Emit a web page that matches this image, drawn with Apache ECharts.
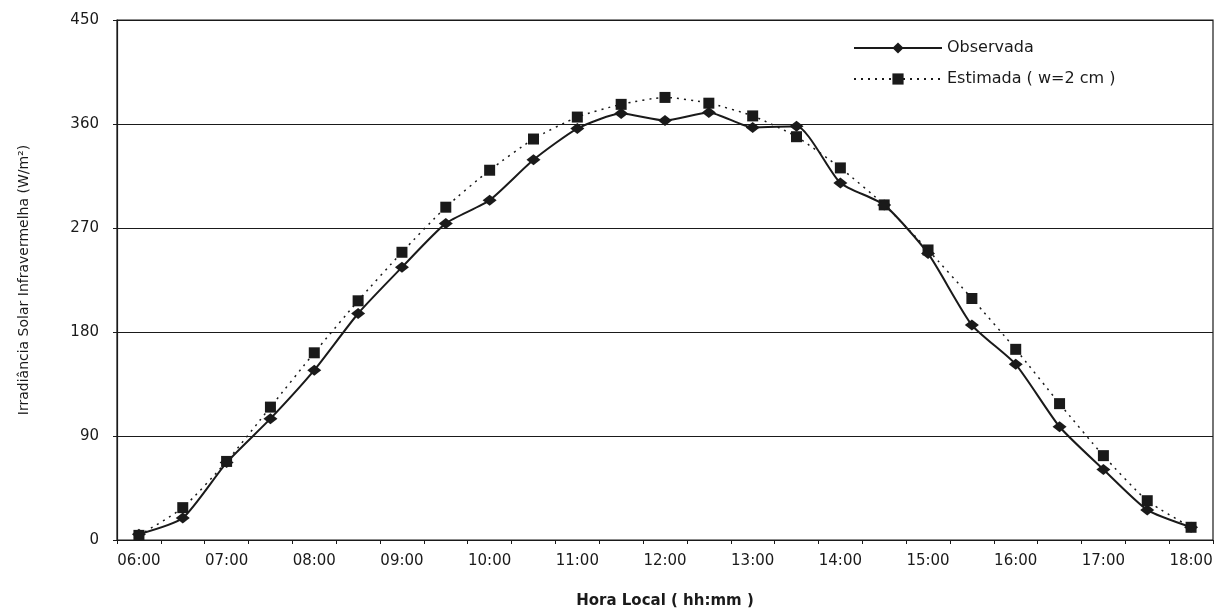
<!DOCTYPE html>
<html>
<head>
<meta charset="utf-8">
<script src="https://cdn.jsdelivr.net/npm/echarts@6/dist/echarts.min.js"></script>
<style>
  html, body { margin: 0; padding: 0; background: #fff; }
  #chart { width: 1220px; height: 612px; }
</style>
</head>
<body>
<div id="chart"></div>
<script>
// Half-hourly times of day
const horas = [
  '06:00','06:30','07:00','07:30','08:00','08:30','09:00','09:30','10:00',
  '10:30','11:00','11:30','12:00','12:30','13:00','13:30','14:00','14:30',
  '15:00','15:30','16:00','16:30','17:00','17:30','18:00'
];

// Measured infrared irradiance (W/m²)
const observada = [
  5, 19, 67, 105, 147, 196, 236, 274, 294, 329, 356, 369, 363,
  370, 357, 358, 309, 290, 248, 186, 152, 98, 61, 26, 11
];

// Estimated infrared irradiance, w = 2 cm (W/m²)
const estimada = [
  4, 28, 68, 115, 162, 207, 249, 288, 320, 347, 366, 377, 383,
  378, 367, 349, 322, 290, 251, 209, 165, 118, 73, 34, 11
];

const yTicks = { min: 0, max: 450, interval: 90 };

const ink = '#1a1a1a';
const wide = 'DejaVu Sans, Verdana, sans-serif';

const chart = echarts.init(document.getElementById('chart'));
chart.setOption({
  backgroundColor: '#ffffff',
  animation: false,
  grid: {
    left: 117, right: 7, top: 20, bottom: 72,
    outerBoundsMode: 'none',
    containLabel: false,
    show: true, borderColor: ink, borderWidth: 1.2
  },
  legend: {
    orient: 'vertical',
    left: 848, top: 35,
    itemWidth: 88, itemHeight: 14, itemGap: 15,
    textStyle: { fontFamily: wide, fontSize: 16, color: ink },
    data: ['Observada', 'Estimada ( w=2 cm )']
  },
  xAxis: {
    type: 'category',
    data: horas,
    boundaryGap: true,
    name: 'Hora Local ( hh:mm )',
    nameLocation: 'middle',
    nameGap: 54,
    nameTextStyle: { fontFamily: wide, fontSize: 15, fontWeight: 'bold', color: ink },
    axisLine: { lineStyle: { color: ink, width: 1.2 } },
    axisTick: { show: true, interval: 0, length: 4, lineStyle: { color: ink } },
    axisLabel: { interval: 1, fontFamily: wide, fontSize: 15, color: ink, margin: 14 },
    splitLine: { show: false }
  },
  yAxis: {
    type: 'value',
    min: yTicks.min, max: yTicks.max, interval: yTicks.interval,
    name: 'Irradiância Solar Infravermelha (W/m²)',
    nameLocation: 'middle',
    nameRotate: 90,
    nameGap: 86,
    nameTextStyle: { fontFamily: wide, fontSize: 14, color: ink },
    axisLine: { show: true, lineStyle: { color: ink, width: 1.2 } },
    axisTick: { show: true, length: 4, lineStyle: { color: ink } },
    axisLabel: { fontFamily: wide, fontSize: 15, color: ink, margin: 18 },
    splitLine: { show: true, lineStyle: { color: ink, width: 1 } }
  },
  series: [
    {
      name: 'Observada',
      type: 'line',
      data: observada,
      smooth: 0.2,
      symbol: 'diamond',
      symbolSize: [14, 11],
      itemStyle: { color: ink },
      lineStyle: { color: ink, width: 2 },
      z: 3
    },
    {
      name: 'Estimada ( w=2 cm )',
      type: 'line',
      data: estimada,
      smooth: 0.2,
      symbol: 'rect',
      symbolSize: 11,
      itemStyle: { color: ink },
      lineStyle: { color: ink, width: 1.5, type: [2, 5] },
      z: 2
    }
  ]
});
</script>
</body>
</html>
